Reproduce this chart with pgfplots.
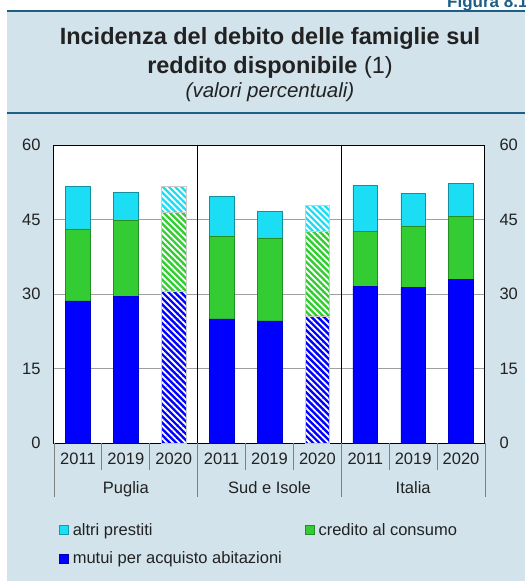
\documentclass[border=0pt]{standalone}
\usepackage{fontspec}
\setmainfont{Liberation Sans}
\usepackage{pgfplots}
\usepackage{pgfplotstable}
\pgfplotsset{compat=1.18}
\usetikzlibrary{patterns.meta}

\definecolor{panel}{HTML}{D2E3EC}
\definecolor{rule}{HTML}{1E5F87}
\definecolor{txt}{HTML}{222222}
\definecolor{mutui}{HTML}{0000FF}
\definecolor{credito}{HTML}{33CC33}
\definecolor{altri}{HTML}{1BDEF5}

% bars 2011 and 2019 (2020 set to 0)
\pgfplotstableread{
x mutui credito altri
0 28.6 14.5 8.5
1 29.5 15.4 5.5
2 0 0 0
3 25.0 16.6 8.1
4 24.6 16.7 5.3
5 0 0 0
6 31.5 11.1 9.3
7 31.3 12.4 6.6
8 32.9 12.7 6.6
}\solid
% 2020 bars drawn hatched (Puglia and Sud e Isole)
\pgfplotstableread{
x mutui credito altri
0 0 0 0
1 0 0 0
2 30.6 15.8 5.2
3 0 0 0
4 0 0 0
5 25.6 17.0 5.2
6 0 0 0
7 0 0 0
8 0 0 0
}\hatched

\newcommand{\lbl}{\fontsize{16.5}{19}\selectfont}
\tikzset{hatch/.style={postaction={pattern={Lines[angle=-45,distance=4.4pt,line width=1.8pt]}, pattern color=white}}}

\begin{document}
\begin{tikzpicture}
\path[use as bounding box] (0,0) rectangle (525pt,-581pt);
\clip (0,0) rectangle (525pt,-581pt);

\fill[panel] (7pt,-11pt) rectangle (525pt,-581pt);
\draw[rule, line width=2.5pt] (7pt,-11pt) -- (525pt,-11pt);
\draw[rule, line width=1.5pt] (7pt,-113pt) -- (525pt,-113pt);
\node[anchor=base east, text=rule, font=\bfseries\fontsize{17}{20}\selectfont] at (531pt,-7pt) {Figura 8.1};

\node[anchor=base, text=txt, font=\bfseries\fontsize{23.5}{28}\selectfont] at (270pt,-44pt) {Incidenza del debito delle famiglie sul};
\node[anchor=base, text=txt, font=\fontsize{23.5}{28}\selectfont] at (270pt,-73pt) {\textbf{reddito disponibile} (1)};
\node[anchor=base, text=txt, font=\itshape\fontsize{20.5}{24}\selectfont] at (270pt,-97pt) {(valori percentuali)};

\begin{axis}[
  at={(54pt,-443pt)}, anchor=south west,
  width=431pt, height=298pt, scale only axis,
  ybar stacked, bar width=0.517,
  xmin=-0.5, xmax=8.5, ymin=0, ymax=60,
  ytick={0,15,30,45,60},
  xtick={0,...,8},
  xticklabels={2011,2019,2020,2011,2019,2020,2011,2019,2020},
  major tick length=0pt,
  ymajorgrids, grid style={draw=gray!75, line width=0.8pt},
  axis line style={black, line width=1pt},
  axis background/.style={fill=white},
  tick label style={font=\lbl, text=txt, /pgf/number format/assume math mode=true},
  yticklabel style={anchor=east, xshift=-10pt},
  xticklabel style={yshift=-6.5pt},
  clip=false,
  legend columns=2,
  legend cell align=left,
  legend image code/.code={\draw[#1, line width=0.6pt] (0pt,-4.5pt) rectangle (9pt,4.5pt);},
  legend style={at={(axis description cs:0,0)}, anchor=north west,
    xshift=2pt, yshift=-76pt, draw=none, fill=none, font=\lbl, text=txt,
    row sep=11pt,
    /tikz/every odd column/.append style={column sep=2pt},
    /tikz/every even column/.append style={column sep=21pt}},
]
\addlegendimage{fill=altri, draw=altri!70!black}
\addlegendentry{altri prestiti}
\addlegendimage{fill=credito, draw=credito!70!black}
\addlegendentry{credito al consumo}
\addlegendimage{fill=mutui, draw=mutui!70!black}
\addlegendentry{mutui per acquisto abitazioni}

\addplot[fill=mutui, draw=mutui!80!black, line width=0.5pt] table[x=x, y=mutui] {\solid};
\addplot[fill=mutui, draw=gray!40, line width=0.6pt, hatch] table[x=x, y=mutui] {\hatched};
\addplot[fill=credito, draw=credito!70!black, line width=0.5pt] table[x=x, y=credito] {\solid};
\addplot[fill=credito, draw=gray!40, line width=0.6pt, hatch] table[x=x, y=credito] {\hatched};
\addplot[fill=altri, draw=altri!65!black, line width=0.5pt] table[x=x, y=altri] {\solid};
\addplot[fill=altri, draw=gray!40, line width=0.6pt, hatch] table[x=x, y=altri] {\hatched};

\draw[black, line width=1pt] (axis cs:2.5,0) -- (axis cs:2.5,60);
\draw[black, line width=1pt] (axis cs:5.5,0) -- (axis cs:5.5,60);
\pgfplotsinvokeforeach{0.5,1.5,3.5,4.5,6.5,7.5}{
  \draw[gray, line width=0.8pt] (axis cs:#1,0) -- ([yshift=-27pt]axis cs:#1,0);
}
\pgfplotsinvokeforeach{-0.5,2.5,5.5,8.5}{
  \draw[gray, line width=0.8pt] (axis cs:#1,0) -- ([yshift=-54pt]axis cs:#1,0);
}
\node[anchor=base, font=\lbl, text=txt] at ([yshift=-50pt]axis cs:1,0) {Puglia};
\node[anchor=base, font=\lbl, text=txt] at ([yshift=-50pt]axis cs:4,0) {Sud e Isole};
\node[anchor=base, font=\lbl, text=txt] at ([yshift=-50pt]axis cs:7,0) {Italia};
\end{axis}

\begin{axis}[
  at={(54pt,-443pt)}, anchor=south west,
  width=431pt, height=298pt, scale only axis,
  xmin=-0.5, xmax=8.5, ymin=0, ymax=60,
  hide x axis, axis y line*=right,
  y axis line style={black, line width=1pt},
  ytick={0,15,30,45,60},
  major tick length=0pt,
  tick label style={font=\lbl, text=txt, /pgf/number format/assume math mode=true},
  yticklabel style={anchor=west, xshift=11pt},
]
\addplot[draw=none] coordinates {(0,0)};
\end{axis}
\end{tikzpicture}
\end{document}
